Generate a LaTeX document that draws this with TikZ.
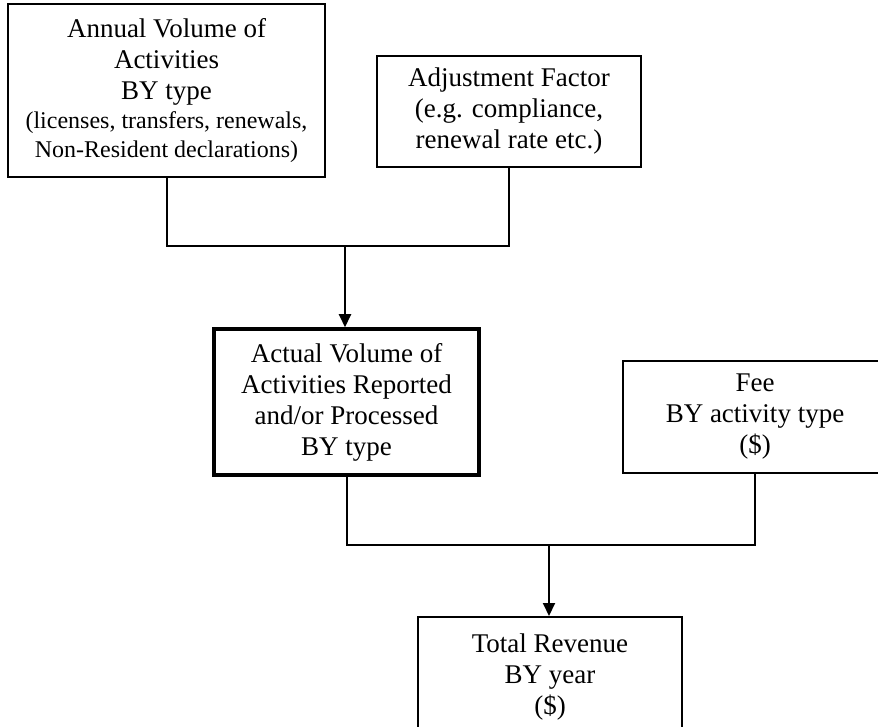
\documentclass[tikz,border=0pt]{standalone}
\usepackage{fontspec}
\setmainfont{Liberation Serif}
\usetikzlibrary{arrows.meta}

\tikzset{
  box/.style={draw, line width=2pt, inner sep=0pt, align=center,
    font=\fontsize{27}{31}\selectfont},
  mainbox/.style={box, line width=3.5pt},
  link/.style={draw, line width=2pt},
  flow/.style={link, -{Triangle[width=12pt,length=13pt]}},
}
\newcommand{\smalltext}{\fontsize{24}{30}\selectfont}

\begin{document}
\begin{tikzpicture}[x=1pt,y=-1pt]
  \useasboundingbox (0,0) rectangle (878,727);
  \clip (0,0) rectangle (878,727);

  % inputs
  \node[box, minimum width=317pt, minimum height=173pt] (annual) at (166.5,90.5)
    {Annual Volume of\\Activities\\BY type\\[-2pt]
     {\smalltext (licenses, transfers, renewals,}\\[-2pt]
     {\smalltext Non-Resident declarations)}};
  \node[box, minimum width=264pt, minimum height=111pt] (adjust) at (509,111.5)
    {Adjustment Factor\\(e.g. compliance,\\renewal rate etc.)};

  % intermediate result
  \node[mainbox, minimum width=265pt, minimum height=146pt] (actual) at (346.5,402)
    {Actual Volume of\\Activities Reported\\and/or Processed\\BY type};
  \node[box, minimum width=264pt, minimum height=112pt] (fee) at (755,417)
    {Fee\\BY activity type\\(\$)};

  % output
  \node[box, minimum width=264pt, minimum height=120pt] (total) at (550,677)
    {Total Revenue\\BY year\\(\$)};

  % junctions
  \coordinate (j1) at (345,246);
  \coordinate (j2) at (549,545);

  \draw[link] (annual.south) |- (j1) -| (adjust.south);
  \draw[flow] (j1) -- (j1 |- actual.north);
  \draw[link] (actual.south) |- (j2) -| (fee.south);
  \draw[flow] (j2) -- (j2 |- total.north);
\end{tikzpicture}
\end{document}
